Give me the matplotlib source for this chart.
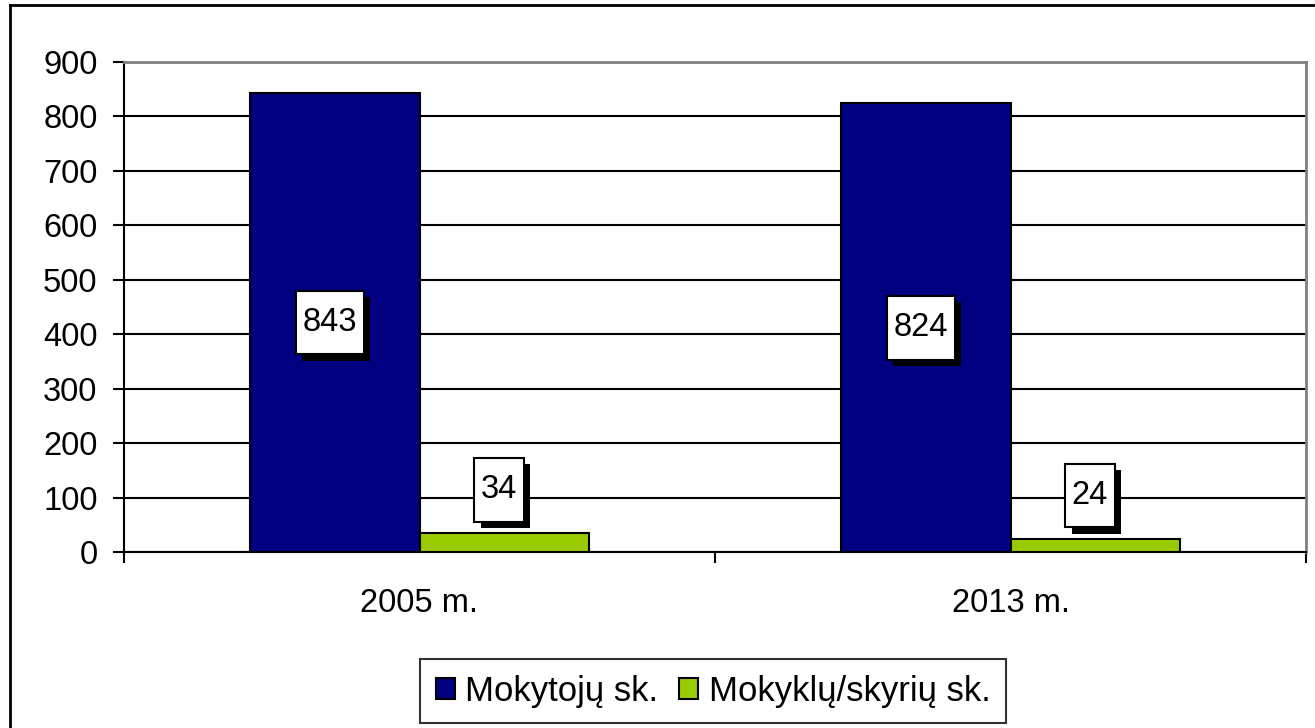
import matplotlib
matplotlib.use("Agg")
import matplotlib.pyplot as plt
import matplotlib.transforms as mtransforms
import matplotlib.patheffects as pe
from matplotlib.lines import Line2D
from matplotlib.path import Path
import numpy as np

plt.rcParams['font.family'] = ['Liberation Sans', 'DejaVu Sans']

# duomenys
metai = ['2005 m.', '2013 m.']
mokytoju = [843, 824]
mokyklu = [34, 24]
serijos = ['Mokytojų sk.', 'Mokyklų/skyrių sk.']
spalvos = ['#000080', '#99CC00']
yticks = list(range(0, 901, 100))

FS = 23.5

fig = plt.figure(figsize=(13.15, 7.28), dpi=100)
ax = fig.add_axes([124 / 1315, 1 - 552 / 728, (1306 - 124) / 1315, (552 - 62) / 728])

x = np.arange(len(metai))
w = 0.286
ax.bar(x - w / 2, mokytoju, w, color=spalvos[0], edgecolor='black', linewidth=1.5,
       label=serijos[0], zorder=3)
ax.bar(x + w / 2, mokyklu, w, color=spalvos[1], edgecolor='black', linewidth=1.5,
       label=serijos[1], zorder=3)

ax.set_xlim(-0.5, len(metai) - 0.5)
ax.set_ylim(0, 900)
ax.set_yticks(yticks)
ax.tick_params(axis='y', labelsize=FS, length=8, width=1.5, direction='out', pad=11)
ax.grid(axis='y', color='black', linewidth=1.5)
ax.set_axisbelow(True)

# kategoriju ribos ir pavadinimai
ax.set_xticks(np.arange(-0.5, len(metai), 1.0))
ax.set_xticklabels([])
ax.tick_params(axis='x', which='major', length=8, width=1.5, direction='out')
ax.set_xticks(x, minor=True)
ax.set_xticklabels(metai, minor=True)
ax.tick_params(axis='x', which='minor', length=0, labelsize=FS, pad=26)

for s in ['left', 'bottom']:
    ax.spines[s].set_color('black')
    ax.spines[s].set_linewidth(1.5)
for s in ['top', 'right']:
    ax.spines[s].set_color('#808080')
    ax.spines[s].set_linewidth(2)


def dezute(x0, y0, width, height, mutation_size):
    # staciakampis su didesniu vertikaliu tarpu (kaip Excel)
    px = 0.2 * mutation_size
    py = 0.5 * mutation_size
    x0, x1 = x0 - px, x0 + width + px
    y0, y1 = y0 - py, y0 + height + py
    return Path([(x0, y0), (x1, y0), (x1, y1), (x0, y1), (x0, y0)],
                [Path.MOVETO, Path.LINETO, Path.LINETO, Path.LINETO, Path.CLOSEPOLY])


def zyme(xv, yv, txt, va, dy):
    tr = mtransforms.offset_copy(ax.transData, fig=fig, x=-5, y=dy, units='dots')
    t = ax.text(xv, yv, txt, transform=tr, color='black', zorder=5, ha='center', va=va,
                fontsize=FS, bbox=dict(boxstyle=dezute, fc='white', ec='black', lw=1.5))
    t.get_bbox_patch().set_path_effects([
        pe.SimplePatchShadow(offset=(4.5, -4.5), shadow_rgbFace='black', alpha=1.0),
        pe.Normal()])


for i in range(len(metai)):
    zyme(x[i] - w / 2, mokytoju[i] / 2, str(mokytoju[i]), 'center', 0)
    zyme(x[i] + w / 2, mokyklu[i], str(mokyklu[i]), 'bottom', 28)

leg = fig.legend(loc='center', bbox_to_anchor=(713 / 1315, 1 - 691 / 728), ncol=2,
                 fontsize=25, frameon=True, fancybox=False, handlelength=0.55,
                 handleheight=0.55, handletextpad=0.3, columnspacing=0.6,
                 borderpad=0.45, borderaxespad=0)
leg.get_frame().set_edgecolor('black')
leg.get_frame().set_linewidth(1.5)
for h in leg.legend_handles:
    h.set_edgecolor('black')
    h.set_linewidth(1.5)

# isorinis remelis
fig.add_artist(Line2D([10 / 1315, 10 / 1315], [0, 1 - 5 / 728], color='black', lw=2,
                      transform=fig.transFigure))
fig.add_artist(Line2D([10 / 1315, 1], [1 - 5 / 728, 1 - 5 / 728], color='black', lw=2,
                      transform=fig.transFigure))

fig.savefig('out.png', dpi=100)
